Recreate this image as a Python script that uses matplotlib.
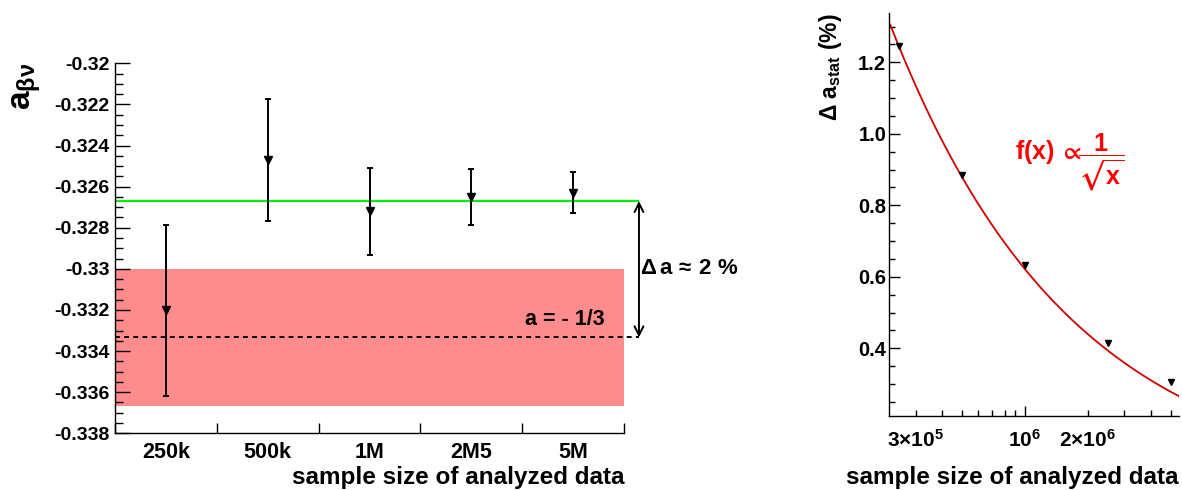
import numpy as np
import matplotlib
matplotlib.use('Agg')
import matplotlib.pyplot as plt
from matplotlib.ticker import MultipleLocator, FixedLocator, FuncFormatter

plt.rcParams['font.family'] = ['Liberation Sans', 'DejaVu Sans']
plt.rcParams['font.weight'] = 'bold'
plt.rcParams['mathtext.fontset'] = 'custom'
plt.rcParams['mathtext.rm'] = 'Liberation Sans'
plt.rcParams['mathtext.it'] = 'Liberation Sans'
plt.rcParams['mathtext.bf'] = 'Liberation Sans:bold'
plt.rcParams['mathtext.sf'] = 'Liberation Sans'
plt.rcParams['mathtext.fallback'] = 'stixsans'

# ---------------- data ----------------
categories = ['250k', '500k', '1M', '2M5', '5M']
a_values = [-0.33202, -0.32472, -0.32720, -0.32650, -0.32629]
a_errors = [0.00416, 0.00296, 0.00212, 0.00137, 0.00101]
mean_a = -0.3267
theory_a = -1.0 / 3.0
band_low, band_high = -0.33667, -0.33

sample_sizes = [2.5e5, 5e5, 1e6, 2.5e6, 5e6]
stat_err_pct = [1.246, 0.886, 0.633, 0.414, 0.307]
fit_const = 622.0  # f(x) = c / sqrt(x)

W, H = 1182, 490
fig = plt.figure(figsize=(W / 100, H / 100), dpi=100)


def px_axes(x0, y0, x1, y1):
    return fig.add_axes([x0 / W, 1 - y1 / H, (x1 - x0) / W, (y1 - y0) / H])


# ---------------- left panel ----------------
ax1 = px_axes(115, 63.3, 624, 433.3)
ncat = len(categories)
xc = np.arange(ncat) + 0.5
ax1.set_xlim(0, ncat)
ax1.set_ylim(-0.338, -0.32)
line_end = ncat + 0.152

ax1.axhspan(band_low, band_high, color='#ff8c8c', lw=0, zorder=0)
ax1.hlines(mean_a, 0, line_end, color='#00ee00', lw=1.6, clip_on=False, zorder=2)
ax1.hlines(theory_a, 0, line_end, color='k', ls=(0, (2.5, 2.2)), lw=1.4,
           clip_on=False, zorder=2)
ax1.errorbar(xc, a_values, yerr=a_errors, fmt='v', color='k', ms=6, lw=1.4,
             capsize=2.2, capthick=1.4, zorder=3)
ax1.annotate('', xy=(line_end - 0.005, mean_a), xytext=(line_end - 0.005, theory_a),
             arrowprops=dict(arrowstyle='<->', lw=1.4, color='k', shrinkA=0,
                             shrinkB=0, mutation_scale=16),
             annotation_clip=False)
ax1.text(line_end + 0.01, -0.32997, r'$\Delta\,\mathbf{a}\,\approx\,\mathbf{2\ \%}$',
         fontsize=16, ha='left', va='center')
ax1.text(4.81, -0.33273, 'a = - 1/3', fontsize=15.5, ha='right', va='baseline',
         fontweight='bold')

for s in ['top', 'right']:
    ax1.spines[s].set_visible(False)
for s in ['left', 'bottom']:
    ax1.spines[s].set_linewidth(1.0)

ax1.set_xticks(xc)
ax1.set_xticklabels(categories, fontsize=15.5, fontweight='bold')
ax1.xaxis.set_minor_locator(FixedLocator(np.arange(0, ncat + 1)))
ax1.tick_params(axis='x', which='major', length=0, pad=6)
ax1.tick_params(axis='x', which='minor', direction='in', length=7.5, width=1)
ax1.yaxis.set_major_locator(MultipleLocator(0.002))
ax1.yaxis.set_minor_locator(MultipleLocator(0.0005))
ax1.yaxis.set_major_formatter(FuncFormatter(lambda v, p: f'{round(v, 4):g}'))
ax1.tick_params(axis='y', which='major', direction='in', length=11, width=1,
                labelsize=14, pad=4)
ax1.tick_params(axis='y', which='minor', direction='in', length=5.5, width=1)
for lab in ax1.get_yticklabels():
    lab.set_fontweight('bold')

fig.text(27 / W, 1 - 63 / H, r'$\mathbf{a}_{\beta\nu}$', fontsize=24, rotation=90,
         ha='center', va='top')
fig.text(624 / W, 1 - 477 / H, 'sample size of analyzed data', fontsize=17.5,
         fontweight='bold', ha='right', va='center')

# ---------------- right panel ----------------
ax2 = px_axes(889, 13.3, 1179, 416)
ax2.set_xscale('log')
ax2.set_xlim(2.24e5, 5.47e6)
ax2.set_ylim(0.2106, 1.337)
xx = np.geomspace(2.27e5, 5.47e6, 400)
ax2.plot(xx, fit_const / np.sqrt(xx), color='#d00000', lw=1.3, zorder=2)
ax2.plot(sample_sizes, stat_err_pct, 'v', color='k', ms=5, zorder=3)

for s in ['top', 'right']:
    ax2.spines[s].set_visible(False)
for s in ['left', 'bottom']:
    ax2.spines[s].set_linewidth(1.0)

major_x = [1e6]
minor_x = [3e5, 4e5, 5e5, 6e5, 7e5, 8e5, 9e5, 2e6, 3e6, 4e6, 5e6]
xlabels = {3e5: r'$\mathbf{3}{\times}\mathbf{10^{5}}$', 1e6: r'$\mathbf{10^{6}}$',
           2e6: r'$\mathbf{2}{\times}\mathbf{10^{6}}$'}
ax2.xaxis.set_major_locator(FixedLocator(major_x))
ax2.xaxis.set_minor_locator(FixedLocator(minor_x))
fmt = FuncFormatter(lambda v, p: xlabels.get(v, ''))
ax2.xaxis.set_major_formatter(fmt)
ax2.xaxis.set_minor_formatter(fmt)
ax2.tick_params(axis='x', which='major', direction='in', length=7, width=1,
                labelsize=15, pad=9)
ax2.tick_params(axis='x', which='minor', direction='in', length=4.5, width=1,
                labelsize=15, pad=9)
ax2.yaxis.set_major_locator(MultipleLocator(0.2))
ax2.yaxis.set_minor_locator(MultipleLocator(0.05))
ax2.yaxis.set_major_formatter(FuncFormatter(lambda v, p: f'{v:.1f}'))
ax2.tick_params(axis='y', which='major', direction='in', length=8, width=1,
                labelsize=14.5, pad=2)
ax2.tick_params(axis='y', which='minor', direction='in', length=4.5, width=1)
for lab in ax2.get_yticklabels():
    lab.set_fontweight('bold')

ax2.text(0.434, 0.655, r'$\mathbf{f(x)}\,\propto$',
         transform=ax2.transAxes, color='#ff0000', fontsize=18, ha='left',
         va='center')
ax2.text(0.652, 0.63, r'$\dfrac{\mathbf{1}}{\sqrt{\mathbf{x}}}$',
         transform=ax2.transAxes, color='#ff0000', fontsize=18, ha='left',
         va='center')

fig.text(830 / W, 1 - 13 / H, r'$\Delta$ $\mathbf{a_{stat}}$ $\mathbf{(\%)}$',
         fontsize=16.5, rotation=90, ha='center', va='top')
fig.text(1178 / W, 1 - 477 / H, 'sample size of analyzed data', fontsize=17.5,
         fontweight='bold', ha='right', va='center')

fig.savefig('out.png', dpi=100)
